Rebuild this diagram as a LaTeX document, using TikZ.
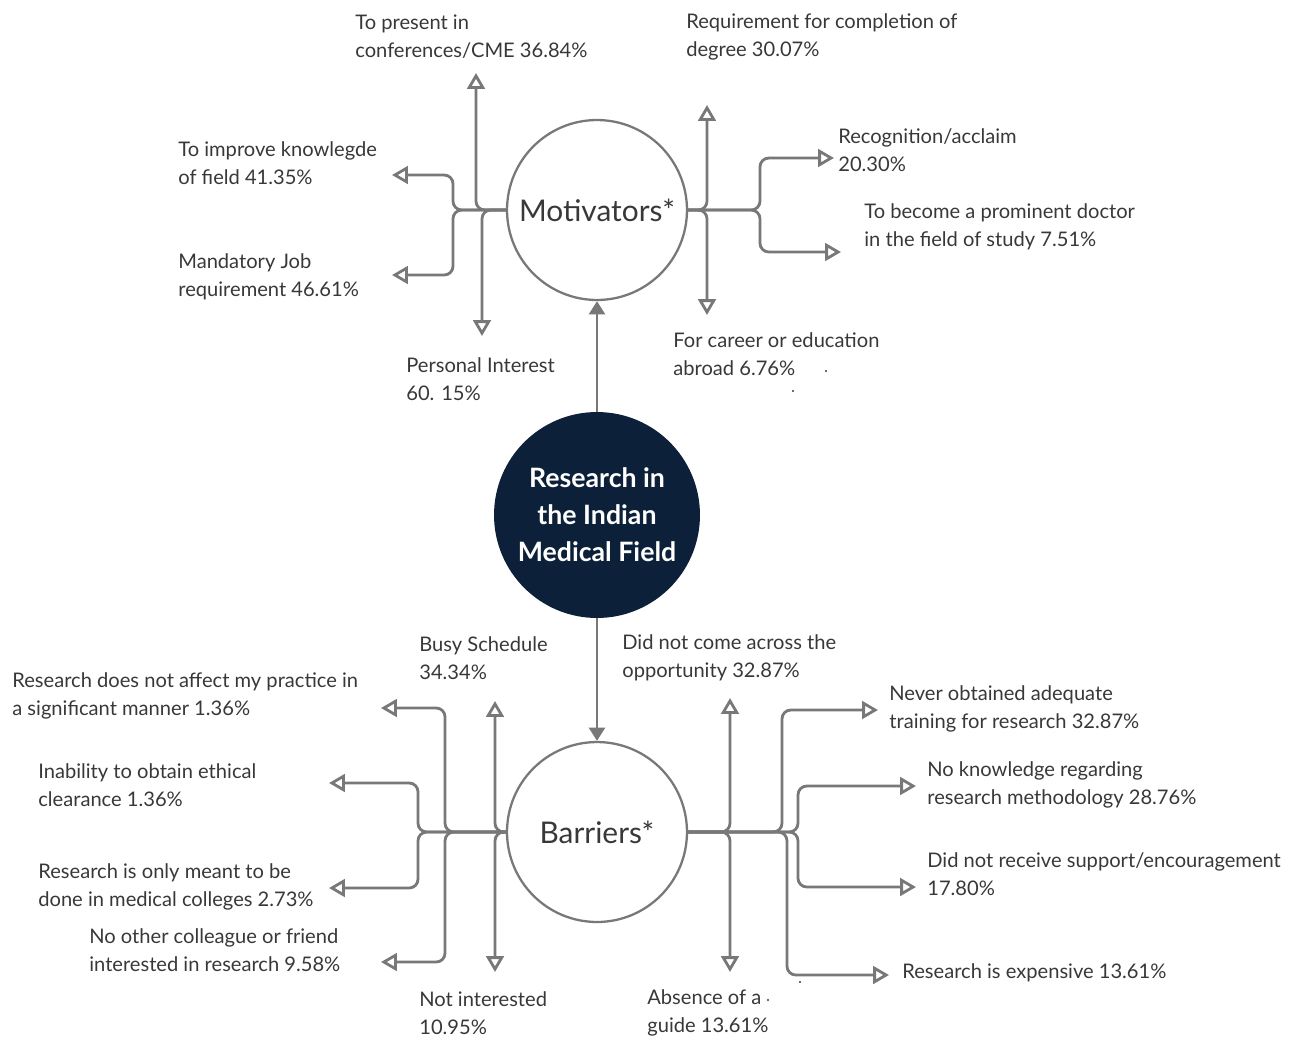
\documentclass[tikz,border=0pt]{standalone}
\usepackage{fontspec}
\setmainfont{Lato}
\usetikzlibrary{arrows.meta}
\definecolor{navy}{HTML}{0C2139}
\definecolor{linegray}{HTML}{787878}
\definecolor{textgray}{HTML}{383838}
\tikzset{
  branch/.style={draw=linegray, line width=1.6pt, rounded corners=5pt,
    -{Triangle[open,length=9pt,width=10pt]}},
  feed/.style={draw=linegray, line width=1.6pt, -{Triangle[length=7.5pt,width=9pt]}},
  hub/.style={circle, draw=linegray, line width=1.3pt, minimum size=3.6cm,
    inner sep=0pt, text=textgray, font=\fontsize{17}{20}\selectfont},
  note/.style={anchor=west, align=left, inner sep=0pt, text=textgray,
    font=\fontsize{11.45}{15.9}\selectfont}
}
\begin{document}
\begin{tikzpicture}[x=0.02cm,y=-0.02cm]
  \useasboundingbox (0,0) rectangle (1296,1036);
  % hubs
  \node[circle, fill=navy, minimum size=4.12cm, inner sep=0pt, align=center,
    text=white, font=\bfseries\fontsize{15.2}{21}\selectfont] (core) at (597,515)
    {Research in\\the Indian\\Medical Field};
  \node[hub] (mot) at (597,210) {Motivators*};
  \node[hub] (bar) at (597,832) {Barriers*};
  \draw[feed] (core) -- (mot);
  \draw[feed] (core) -- (bar);

  % motivators
  \coordinate (mL) at (453,210);
  \coordinate (mR) at (760,210);
  \coordinate (tPres) at (476,73);
  \coordinate (tPers) at (482,336);
  \coordinate (tKnow) at (392,175);
  \coordinate (tJob) at (392,275);
  \coordinate (tDeg) at (707,105);
  \coordinate (tAbr) at (707,315);
  \coordinate (tRec) at (834,158);
  \coordinate (tProm) at (841,252);
  \draw[branch] (mot.west) -| (tPres);
  \draw[branch] (mot.west) -| (tPers);
  \draw[branch] (mot.west) -- (mL) |- (tKnow);
  \draw[branch] (mot.west) -- (mL) |- (tJob);
  \draw[branch] (mot.east) -| (tDeg);
  \draw[branch] (mot.east) -| (tAbr);
  \draw[branch] (mot.east) -- (mR) |- (tRec);
  \draw[branch] (mot.east) -- (mR) |- (tProm);

  \node[note] (pres) at (355,37) {To present in\\conferences/CME 36.84\%};
  \node[note] (deg) at (686,37) {Requirement for completion of\\degree 30.07\%};
  \node[note] (know) at (178,163) {To improve knowlegde\\of field 41.35\%};
  \node[note] (job) at (178,277) {Mandatory Job\\requirement 46.61\%};
  \node[note] (pers) at (406,379) {Personal Interest\\60. 15\%};
  \node[note] (abr) at (673,354) {For career or education\\abroad 6.76\%};
  \node[note] (rec) at (838,150) {Recognition/acclaim\\20.30\%};
  \node[note] (prom) at (864,227) {To become a prominent doctor\\in the field of study 7.51\%};
  \fill[textgray] (826,371) circle (0.6pt) (793,391) circle (0.6pt);

  % barriers
  \coordinate (bL1) at (445,832);
  \coordinate (bL2) at (418,832);
  \coordinate (bR1) at (782,832);
  \coordinate (bR2) at (798,832);
  \coordinate (bR3) at (787,832);
  \coordinate (tBusy) at (495,701);
  \coordinate (tNot) at (495,972);
  \coordinate (tAff) at (381,708);
  \coordinate (tColl) at (381,962);
  \coordinate (tEth) at (329,783);
  \coordinate (tOnly) at (329,888);
  \coordinate (tOpp) at (730,698);
  \coordinate (tGuide) at (730,972);
  \coordinate (tTrain) at (878,710);
  \coordinate (tMeth) at (916,786);
  \coordinate (tSupp) at (916,887);
  \coordinate (tExp) at (889,975);
  \draw[branch] (bar.west) -| (tBusy);
  \draw[branch] (bar.west) -| (tNot);
  \draw[branch] (bar.west) -- (bL1) |- (tAff);
  \draw[branch] (bar.west) -- (bL1) |- (tColl);
  \draw[branch] (bar.west) -- (bL2) |- (tEth);
  \draw[branch] (bar.west) -- (bL2) |- (tOnly);
  \draw[branch] (bar.east) -| (tOpp);
  \draw[branch] (bar.east) -| (tGuide);
  \draw[branch] (bar.east) -- (bR1) |- (tTrain);
  \draw[branch] (bar.east) -- (bR2) |- (tMeth);
  \draw[branch] (bar.east) -- (bR2) |- (tSupp);
  \draw[branch] (bar.east) -- (bR3) |- (tExp);

  \node[note] (aff) at (12,696) {Research does not affect my practice in\\a significant manner 1.36\%};
  \node[note] (eth) at (38,785) {Inability to obtain ethical\\clearance 1.36\%};
  \node[note] (only) at (38,887) {Research is only meant to be\\done in medical colleges 2.73\%};
  \node[note] (coll) at (89,950) {No other colleague or friend\\interested in research 9.58\%};
  \node[note] (busy) at (419,658) {Busy Schedule\\34.34\%};
  \node[note] (notint) at (419,1013) {Not interested\\10.95\%};
  \node[note] (opp) at (622,658) {Did not come across the\\opportunity 32.87\%};
  \node[note] (guide) at (647,1013) {Absence of a\\guide 13.61\%};
  \node[note] (train) at (889,709) {Never obtained adequate\\training for research 32.87\%};
  \node[note] (meth) at (927,785) {No knowledge regarding\\research methodology 28.76\%};
  \node[note] (supp) at (927,874) {Did not receive support/encouragement\\17.80\%};
  \node[note] (exp) at (902,973) {Research is expensive 13.61\%};
  \fill[textgray] (768,1000) circle (0.6pt) (800,982) circle (0.6pt);
\end{tikzpicture}
\end{document}
